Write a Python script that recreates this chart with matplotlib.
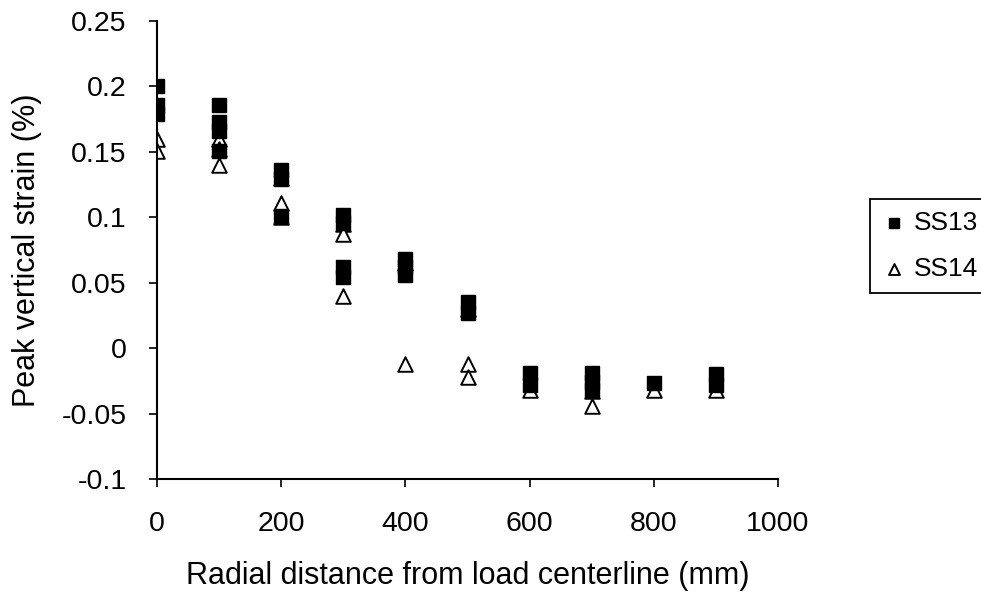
import numpy as np
from matplotlib import pyplot as plt

# SS13 (filled squares)
ss13_x = [0, 0, 0,
          100, 100, 100, 100,
          200, 200, 200,
          300, 300, 300, 300,
          400, 400, 400,
          500, 500,
          600, 600,
          700, 700, 700,
          800,
          900, 900]
ss13_y = [0.200, 0.186, 0.179,
          0.186, 0.173, 0.166, 0.151,
          0.136, 0.129, 0.101,
          0.102, 0.096, 0.062, 0.054,
          0.068, 0.062, 0.056,
          0.035, 0.027,
          -0.019, -0.028,
          -0.019, -0.026, -0.032,
          -0.027,
          -0.020, -0.028]

# SS14 (open triangles)
ss14_x = [0, 0,
          100, 100, 100,
          200, 200, 200,
          300, 300, 300,
          400, 400,
          500, 500, 500,
          600,
          700, 700,
          800,
          900]
ss14_y = [0.160, 0.151,
          0.160, 0.152, 0.140,
          0.130, 0.111, 0.100,
          0.095, 0.087, 0.040,
          0.065, -0.012,
          0.030, -0.012, -0.022,
          -0.032,
          -0.033, -0.044,
          -0.032,
          -0.032]

xticks = [0, 200, 400, 600, 800, 1000]
yticks = [-0.1, -0.05, 0, 0.05, 0.1, 0.15, 0.2, 0.25]
ytick_labels = ['-0.1', '-0.05', '0', '0.05', '0.1', '0.15', '0.2', '0.25']

plt.rcParams['font.family'] = ['Liberation Sans', 'DejaVu Sans']

fig = plt.figure(figsize=(9.81, 5.99), dpi=100)
ax = fig.add_axes([157/981, 1 - 479/599, (778 - 157)/981, (479 - 21)/599])

ax.scatter(ss14_x, ss14_y, marker='^', s=110, facecolors='white',
           edgecolors='black', linewidths=1.4, zorder=2, label='SS14')
ax.scatter(ss13_x, ss13_y, marker='s', s=110, color='black',
           zorder=3, label='SS13')

ax.set_xlim(0, 1000)
ax.set_ylim(-0.1, 0.25)
ax.set_xticks(xticks)
ax.set_yticks(yticks)
ax.set_yticklabels(ytick_labels)

for s in ['top', 'right']:
    ax.spines[s].set_visible(False)
for s in ['left', 'bottom']:
    ax.spines[s].set_linewidth(1.5)

ax.tick_params(axis='both', direction='out', length=6, width=1.2, labelsize=20.5)
ax.tick_params(axis='y', pad=16)
ax.tick_params(axis='x', pad=17)

ax.set_xlabel('Radial distance from load centerline (mm)', fontsize=22, labelpad=17)
ax.set_ylabel('Peak vertical strain (%)', fontsize=22, labelpad=14)

handles, labels = ax.get_legend_handles_labels()
leg = fig.legend(handles[::-1], labels[::-1], loc='upper left',
                 bbox_to_anchor=(870/981, 1 - 199/599), borderaxespad=0,
                 fontsize=19, frameon=True, fancybox=False, edgecolor='black',
                 framealpha=1, markerscale=0.75, handletextpad=0.3,
                 labelspacing=0.85, borderpad=0.45, handlelength=0.9)
leg.get_frame().set_linewidth(1.3)

fig.savefig('out.png', dpi=100)
